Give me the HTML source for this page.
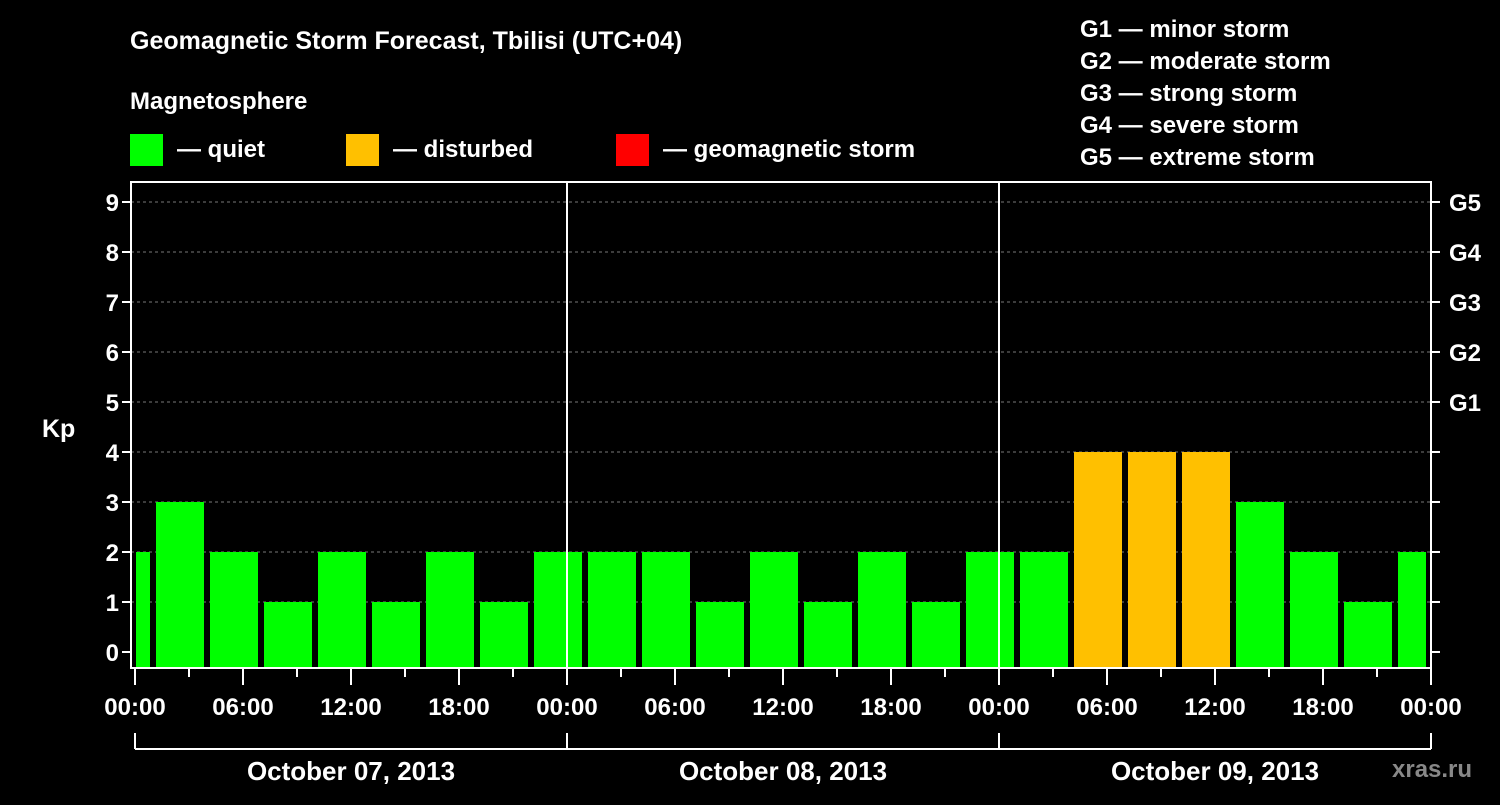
<!DOCTYPE html>
<html><head><meta charset="utf-8"><style>
body{margin:0;background:#000;width:1500px;height:800px;overflow:hidden}
svg text{font-family:"Liberation Sans",sans-serif;font-weight:bold;fill:#fff}
</style></head><body>
<svg id="c" width="1500" height="800">
<text x="130" y="49" font-size="25">Geomagnetic Storm Forecast, Tbilisi (UTC+04)</text>
<text x="130" y="109" font-size="24">Magnetosphere</text>
<g><rect x="130" y="134" width="33" height="32" fill="#00ff00"/><text x="177" y="157" font-size="24">— quiet</text></g>
<g><rect x="346" y="134" width="33" height="32" fill="#ffc000"/><text x="393" y="157" font-size="24">— disturbed</text></g>
<g><rect x="616" y="134" width="33" height="32" fill="#ff0000"/><text x="663" y="157" font-size="24">— geomagnetic storm</text></g>
<g font-size="24">
<text x="1080" y="37">G1 — minor storm</text><text x="1080" y="69">G2 — moderate storm</text><text x="1080" y="101">G3 — strong storm</text><text x="1080" y="133">G4 — severe storm</text><text x="1080" y="165">G5 — extreme storm</text></g>
<text x="42" y="437" font-size="25">Kp</text>
<text x="1392" y="777" font-size="24" fill="#888" style="fill:#888">xras.ru</text>
<g id="plot"></g>
</svg>
<script>
const kpValues=[2,3,2,1,2,1,2,1,2,2,2,1,2,1,2,1,2,2,4,4,4,3,2,1,2];
const kpTicks=[0,1,2,3,4,5,6,7,8,9];
const gLabels=["G1","G2","G3","G4","G5"];
const timeLabels=["00:00","06:00","12:00","18:00"];
const dayLabels=["October 07, 2013","October 08, 2013","October 09, 2013"];
const NS="http://www.w3.org/2000/svg";
const g=document.getElementById('plot');
const X0=135,PXH=18,L=131,R=1431,T=182,B=668;
const xs=h=>X0+h*PXH;
const ys=k=>652-50*k;
function mk(t,a,p){const e=document.createElementNS(NS,t);for(const k in a)e.setAttribute(k,a[k]);(p||g).appendChild(e);return e;}
kpTicks.forEach(k=>{
 if(k>0){const l=mk('line',{x1:L,x2:R,y1:ys(k),y2:ys(k),stroke:'#777','stroke-dasharray':'3,3','stroke-width':1});
 }
 const t=mk('line',{x1:L-9,x2:L,y1:ys(k),y2:ys(k),stroke:'#fff','stroke-width':2});
 
 const t2=mk('line',{x1:R,x2:R+9,y1:ys(k),y2:ys(k),stroke:'#fff','stroke-width':2});
 
 const tx=mk('text',{x:L-12,y:ys(k)+9,'font-size':24,'text-anchor':'end'});tx.textContent=k;
 
});
gLabels.forEach((s,i)=>{const tx=mk('text',{x:1449,y:ys(i+5)+9,'font-size':24});tx.textContent=s;
 });
kpValues.forEach((v,i)=>{
 let a=xs(-2+3*i)+3,b=xs(1+3*i)-3;a=Math.max(a,L+5);b=Math.min(b,R-5);
 const col=v>=5?'#ff0000':(v>=4?'#ffc000':'#00ff00');
 const r=mk('rect',{x:a,y:ys(v),width:b-a,height:B-1-ys(v),fill:col});
 
});
for(let d=1;d<3;d++){const l=mk('line',{x1:xs(24*d),x2:xs(24*d),y1:T,y2:B,stroke:'#fff','stroke-width':2});
 }
const fr=mk('rect',{x:L,y:T,width:R-L,height:B-T,fill:'none',stroke:'#fff','stroke-width':2});

for(let h=0;h<=72;h+=3){const maj=h%6==0;
 const t=mk('line',{x1:xs(h),x2:xs(h),y1:B,y2:B+(maj?17:9),stroke:'#fff','stroke-width':2});
 
 if(maj){const tx=mk('text',{x:xs(h),y:715,'font-size':24,'text-anchor':'middle'});tx.textContent=timeLabels[(h/6)%4];
 }}
const br=mk('line',{x1:xs(0),x2:xs(72),y1:749,y2:749,stroke:'#fff','stroke-width':2});

for(let d=0;d<=3;d++){const l=mk('line',{x1:xs(24*d),x2:xs(24*d),y1:733,y2:749,stroke:'#fff','stroke-width':2});
 }
dayLabels.forEach((s,d)=>{const tx=mk('text',{x:xs(24*d+12),y:780,'font-size':26,'text-anchor':'middle'});tx.textContent=s;
 });
</script>
</body></html>
